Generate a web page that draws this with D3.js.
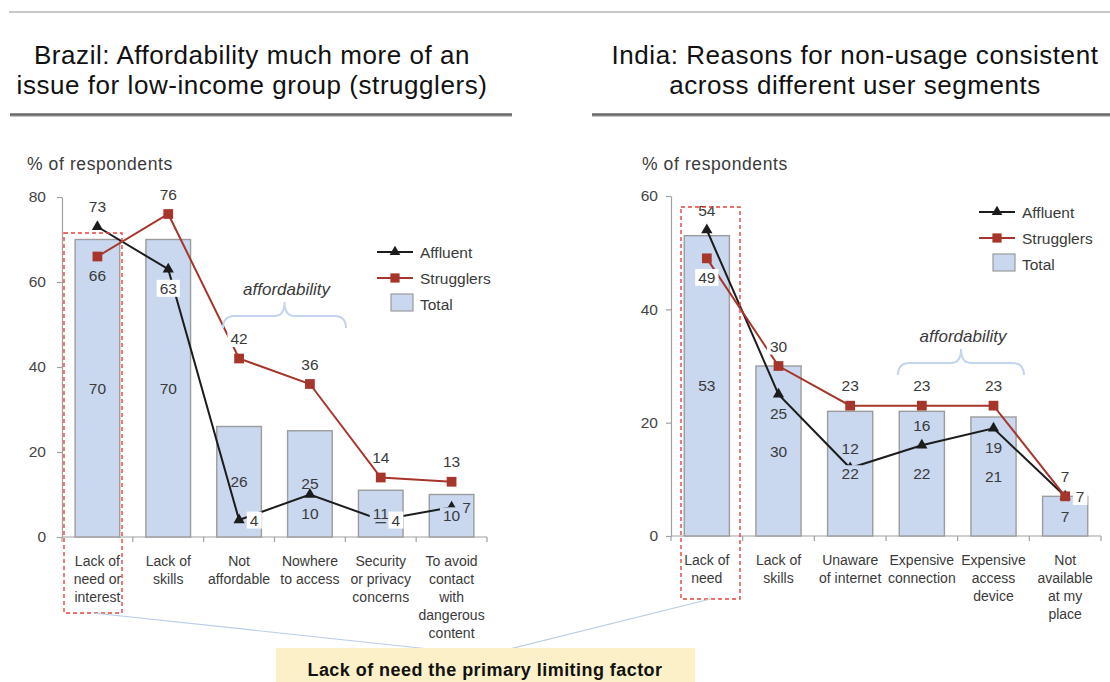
<!DOCTYPE html>
<html>
<head>
<meta charset="utf-8">
<script src="https://cdn.jsdelivr.net/npm/d3@7/dist/d3.min.js"></script>
<style>
  body { margin: 0; background: #fff; }
  svg { display: block; }
</style>
</head>
<body>
<svg id="chart" width="1110" height="682"></svg>
<script>
// chart data
const brazilCategories = ["Lack of\nneed or\ninterest", "Lack of\nskills", "Not\naffordable",
  "Nowhere\nto access", "Security\nor privacy\nconcerns", "To avoid\ncontact\nwith\ndangerous\ncontent"];
const brazilTotal = [70, 70, 26, 25, 11, 10];
const brazilAffluent = [73, 63, 4, 10, 4, 7];
const brazilStrugglers = [66, 76, 42, 36, 14, 13];
const brazilTicks = [0, 20, 40, 60, 80];

const indiaCategories = ["Lack of\nneed", "Lack of\nskills", "Unaware\nof internet",
  "Expensive\nconnection", "Expensive\naccess\ndevice", "Not\navailable\nat my\nplace"];
const indiaTotal = [53, 30, 22, 22, 21, 7];
const indiaAffluent = [54, 25, 12, 16, 19, 7];
const indiaStrugglers = [49, 30, 23, 23, 23, 7];
const indiaTicks = [0, 20, 40, 60];

const seriesNames = ["Affluent", "Strugglers", "Total"];

const FONT = "'Liberation Sans', Arial, Helvetica, sans-serif";
const BAR_FILL = "#c9d7ef";
const BAR_STROKE = "#9c9c9c";
const AFF_COLOR = "#1c1c1c";
const STR_COLOR = "#a6352b";
const TEXT = "#3a3a3a";

const svg = d3.select("#chart").attr("font-family", FONT);

// top rule
svg.append("line")
  .attr("x1", 9).attr("x2", 1110).attr("y1", 12).attr("y2", 12)
  .attr("stroke", "#b5b5b5").attr("stroke-width", 1.5);

/**
 * drawPanel(p): one combo chart (bars = total, lines = affluent / strugglers)
 */
function drawPanel(p) {
  const g = svg.append("g");

  // title + underline
  const title = g.append("text")
    .attr("text-anchor", "middle")
    .attr("font-size", 26)
    .attr("letter-spacing", 0.55)
    .attr("fill", "#111");
  p.title.forEach((t, i) => {
    title.append("tspan").attr("x", p.titleX).attr("y", 64 + i * 30).text(t);
  });
  g.append("line")
    .attr("x1", p.ruleX[0]).attr("x2", p.ruleX[1]).attr("y1", 116).attr("y2", 116)
    .attr("stroke", "#c8c8c8").attr("stroke-width", 2);
  g.append("line")
    .attr("x1", p.ruleX[0]).attr("x2", p.ruleX[1]).attr("y1", 114.5).attr("y2", 114.5)
    .attr("stroke", "#6a6a6a").attr("stroke-width", 2.5);

  g.append("text")
    .attr("x", p.unitX).attr("y", 170)
    .attr("font-size", 17.5).attr("letter-spacing", 0.6).attr("fill", TEXT)
    .text("% of respondents");

  const x = d3.scaleBand()
    .domain(p.categories)
    .range([p.x0, p.x1])
    .paddingInner(0.37)
    .paddingOuter(0.185);
  const y = d3.scaleLinear()
    .domain([0, d3.max(p.ticks)])
    .range([p.yBottom, p.yTop]);
  const bw = x.bandwidth();
  const cx = i => x(p.categories[i]) + bw / 2;

  // y axis
  const ga = g.append("g")
    .attr("transform", `translate(${p.x0},0)`)
    .call(d3.axisLeft(y).tickValues(p.ticks).tickSize(5).tickSizeOuter(0).tickPadding(p.tickPad));
  ga.attr("font-family", FONT).attr("font-size", 15.5);
  ga.select(".domain").attr("stroke", "#a0a0a0").attr("stroke-width", 1.2);
  ga.selectAll(".tick line").attr("stroke", "#a0a0a0").attr("stroke-width", 1.2);
  ga.selectAll(".tick text").attr("fill", "#444");

  // x axis with ticks at band boundaries
  g.append("line")
    .attr("x1", p.x0).attr("x2", p.x1).attr("y1", p.yBottom).attr("y2", p.yBottom)
    .attr("stroke", "#a0a0a0").attr("stroke-width", 1.2);
  g.selectAll("line.xtick")
    .data(d3.range(p.categories.length + 1))
    .enter().append("line")
    .attr("class", "xtick")
    .attr("x1", i => p.x0 + i * x.step()).attr("x2", i => p.x0 + i * x.step())
    .attr("y1", p.yBottom).attr("y2", p.yBottom + 5)
    .attr("stroke", "#a0a0a0").attr("stroke-width", 1.2);

  // category labels
  p.categories.forEach((c, i) => {
    const t = g.append("text")
      .attr("text-anchor", "middle")
      .attr("font-size", 14)
      .attr("fill", TEXT);
    c.split("\n").forEach((line, k) => {
      t.append("tspan").attr("x", cx(i)).attr("y", p.yBottom + 29 + k * 18).text(line);
    });
  });

  // bars
  g.selectAll("rect.bar")
    .data(p.total)
    .enter().append("rect")
    .attr("class", "bar")
    .attr("x", (d, i) => x(p.categories[i]))
    .attr("y", d => y(d))
    .attr("width", bw)
    .attr("height", d => p.yBottom - y(d))
    .attr("fill", BAR_FILL)
    .attr("stroke", BAR_STROKE)
    .attr("stroke-width", 1.4);

  // lines
  const line = d3.line().x((d, i) => cx(i)).y(d => y(d));
  g.append("path").datum(p.affluent).attr("d", line)
    .attr("fill", "none").attr("stroke", AFF_COLOR).attr("stroke-width", 2);
  g.append("path").datum(p.strugglers).attr("d", line)
    .attr("fill", "none").attr("stroke", STR_COLOR).attr("stroke-width", 2);

  g.selectAll("path.tri")
    .data(p.affluent)
    .enter().append("path")
    .attr("class", "tri")
    .attr("d", d3.symbol(d3.symbolTriangle, 55))
    .attr("transform", (d, i) => `translate(${cx(i)},${y(d)})`)
    .attr("fill", AFF_COLOR);
  g.selectAll("path.sq")
    .data(p.strugglers)
    .enter().append("path")
    .attr("class", "sq")
    .attr("d", d3.symbol(d3.symbolSquare, 95))
    .attr("transform", (d, i) => `translate(${cx(i)},${y(d)})`)
    .attr("fill", STR_COLOR);

  // data labels
  function label(px, py, txt, bg) {
    const t = g.append("text")
      .attr("x", px).attr("y", py).attr("dy", "0.36em")
      .attr("text-anchor", "middle")
      .attr("font-size", 15.5)
      .attr("fill", TEXT)
      .text(txt);
    if (bg) {
      const b = t.node().getBBox();
      g.insert("rect", () => t.node())
        .attr("x", b.x - 3).attr("y", b.y)
        .attr("width", b.width + 6).attr("height", b.height)
        .attr("fill", bg);
    }
  }
  function place(pos, i, v) {
    if (pos === "above") return [cx(i), y(v) - 20];
    if (pos === "below") return [cx(i), y(v) + 19];
    if (pos === "right") return [cx(i) + 15, y(v)];
    return [cx(i), y(v / 2)];
  }
  p.total.forEach((v, i) => {
    const [lx, ly] = place("mid", i, v);
    label(lx, ly, v, p.totalBg[i] ? BAR_FILL : null);
  });
  p.affluent.forEach((v, i) => {
    const [lx, ly] = place(p.affPos[i], i, v);
    label(lx, ly, v, p.affBg[i] ? "#fff" : null);
  });
  p.strugglers.forEach((v, i) => {
    const [lx, ly] = place(p.strPos[i], i, v);
    label(lx, ly, v, p.strBg[i] ? "#fff" : null);
  });

  // affordability brace
  const [bx0, bx1] = p.brace;
  const by = p.braceY;
  const bm = (bx0 + bx1) / 2;
  g.append("path")
    .attr("d", `M${bx0},${by + 12} Q${bx0},${by} ${bx0 + 12},${by} L${bm - 10},${by}` +
      ` Q${bm},${by} ${bm},${by - 14} Q${bm},${by} ${bm + 10},${by} L${bx1 - 12},${by}` +
      ` Q${bx1},${by} ${bx1},${by + 12}`)
    .attr("fill", "none").attr("stroke", "#c3d4ee").attr("stroke-width", 2);
  g.append("text")
    .attr("x", bm + 2).attr("y", by - 21)
    .attr("text-anchor", "middle")
    .attr("font-size", 17).attr("font-style", "italic").attr("fill", TEXT)
    .text("affordability");

  // legend
  const lg = g.append("g").attr("transform", `translate(${p.legend[0]},${p.legend[1]})`);
  [AFF_COLOR, STR_COLOR].forEach((col, k) => {
    lg.append("line").attr("x1", 0).attr("x2", 36).attr("y1", k * 26).attr("y2", k * 26)
      .attr("stroke", col).attr("stroke-width", 2.2);
    lg.append("path")
      .attr("d", d3.symbol(k === 0 ? d3.symbolTriangle : d3.symbolSquare, k === 0 ? 50 : 85))
      .attr("transform", `translate(18,${k * 26})`)
      .attr("fill", col);
  });
  lg.append("rect").attr("x", 14).attr("y", 42).attr("width", 22).attr("height", 17)
    .attr("fill", BAR_FILL).attr("stroke", BAR_STROKE).attr("stroke-width", 1.2);
  seriesNames.forEach((s, k) => {
    lg.append("text").attr("x", 43).attr("y", k * 26 + 5.5)
      .attr("font-size", 15.5).attr("fill", TEXT).text(s);
  });

  // highlight box around first category
  g.append("rect")
    .attr("x", p.box[0]).attr("y", p.box[1])
    .attr("width", p.box[2] - p.box[0]).attr("height", p.box[3] - p.box[1])
    .attr("fill", "none").attr("stroke", "#e8413a")
    .attr("stroke-width", 1.4).attr("stroke-dasharray", "4,3");

  return [(p.box[0] + p.box[2]) / 2, p.box[3]];
}

const brazilEnd = drawPanel({
  title: ["Brazil: Affordability much more of an", "issue for low-income group (strugglers)"],
  titleX: 252, ruleX: [10, 512], unitX: 27,
  categories: brazilCategories, total: brazilTotal,
  affluent: brazilAffluent, strugglers: brazilStrugglers, ticks: brazilTicks,
  x0: 62, x1: 487, yTop: 197, yBottom: 537, tickPad: 11,
  affPos: ["above", "below", "right", "below", "right", "right"],
  affBg: [0, 1, 1, 0, 1, 0],
  strPos: ["below", "above", "above", "above", "above", "above"],
  strBg: [0, 0, 1, 0, 0, 0],
  totalBg: [0, 0, 0, 0, 1, 1],
  brace: [223, 346], braceY: 316,
  legend: [377, 252],
  box: [64, 233, 122, 613]
});

const indiaEnd = drawPanel({
  title: ["India: Reasons for non-usage consistent", "across different user segments"],
  titleX: 855, ruleX: [592, 1110], unitX: 642,
  categories: indiaCategories, total: indiaTotal,
  affluent: indiaAffluent, strugglers: indiaStrugglers, ticks: indiaTicks,
  x0: 671, x1: 1101, yTop: 196, yBottom: 536, tickPad: 8,
  affPos: ["above", "below", "above", "above", "below", "right"],
  affBg: [0, 0, 0, 0, 0, 1],
  strPos: ["below", "above", "above", "above", "above", "above"],
  strBg: [1, 1, 0, 0, 0, 0],
  totalBg: [0, 0, 1, 0, 0, 0],
  brace: [898, 1024], braceY: 363,
  legend: [979, 212],
  box: [681, 207, 740, 599]
});

// call-out at the bottom
const calloutTip = [485, 655];
[brazilEnd, indiaEnd].forEach(pt => {
  svg.append("line")
    .attr("x1", pt[0]).attr("y1", pt[1]).attr("x2", calloutTip[0]).attr("y2", calloutTip[1])
    .attr("stroke", "#b9cce8").attr("stroke-width", 1.2);
});
svg.append("rect")
  .attr("x", 276).attr("y", 648).attr("width", 419).attr("height", 40)
  .attr("fill", "#fbf0c8");
svg.append("text")
  .attr("x", 485).attr("y", 676)
  .attr("text-anchor", "middle")
  .attr("font-size", 18).attr("letter-spacing", 0.45)
  .attr("font-weight", "bold").attr("fill", "#111")
  .text("Lack of need the primary limiting factor");
</script>
</body>
</html>
